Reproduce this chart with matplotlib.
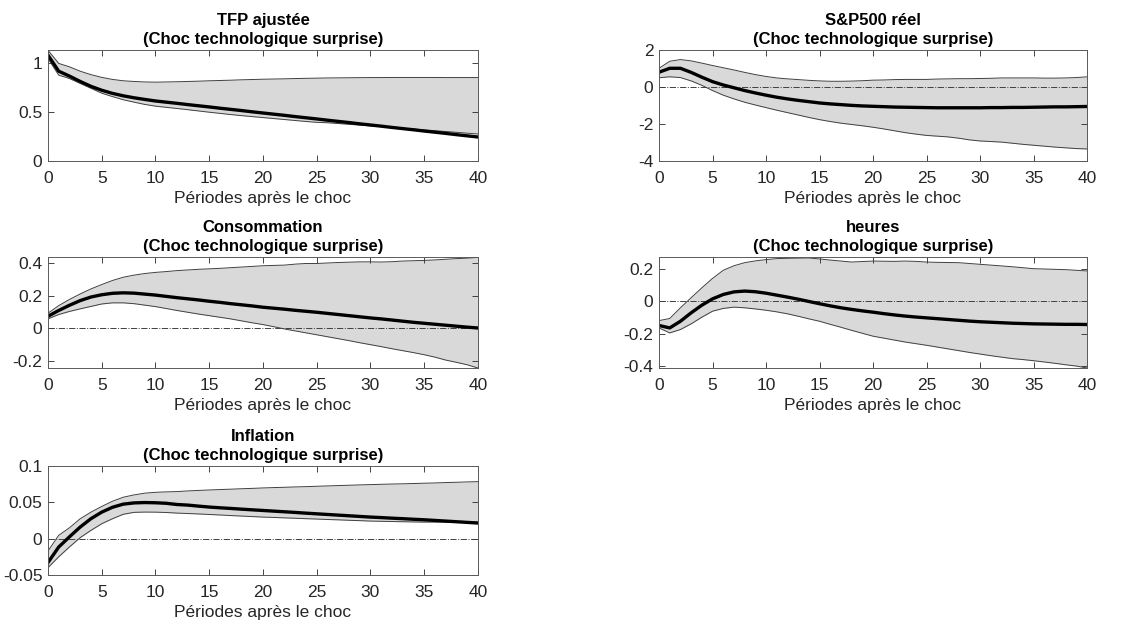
import matplotlib
matplotlib.use('Agg')
import matplotlib.pyplot as plt
import numpy as np
from matplotlib.ticker import FormatStrFormatter

plt.rcParams['font.family'] = ['Liberation Sans', 'DejaVu Sans']
plt.rcParams['axes.unicode_minus'] = False

periods = np.arange(41)

# TFP ajustée
tfp_mid = [1.085, 0.92, 0.87, 0.815, 0.765, 0.725, 0.693, 0.668, 0.648, 0.631, 0.615,
           0.603, 0.591, 0.578, 0.566, 0.554, 0.541, 0.529, 0.517, 0.504, 0.492,
           0.48, 0.468, 0.455, 0.443, 0.431, 0.418, 0.406, 0.394, 0.381, 0.369,
           0.357, 0.344, 0.332, 0.32, 0.307, 0.295, 0.283, 0.27, 0.258, 0.246]
tfp_up = [1.135, 1.0, 0.965, 0.92, 0.885, 0.857, 0.836, 0.822, 0.815, 0.81, 0.808,
          0.81, 0.812, 0.815, 0.818, 0.822, 0.825, 0.828, 0.832, 0.835, 0.838,
          0.84, 0.842, 0.845, 0.847, 0.849, 0.851, 0.852, 0.853, 0.854, 0.855,
          0.855, 0.856, 0.856, 0.856, 0.856, 0.856, 0.855, 0.855, 0.855, 0.855]
tfp_lo = [1.05, 0.88, 0.845, 0.795, 0.745, 0.695, 0.66, 0.628, 0.603, 0.58, 0.562,
          0.55, 0.538, 0.526, 0.513, 0.5, 0.488, 0.476, 0.465, 0.455, 0.445,
          0.435, 0.425, 0.415, 0.405, 0.396, 0.392, 0.384, 0.376, 0.368, 0.36,
          0.352, 0.344, 0.336, 0.328, 0.319, 0.311, 0.302, 0.294, 0.285, 0.277]

# S&P500 réel
sp_mid = [0.79, 1.0, 1.0, 0.78, 0.52, 0.28, 0.1, -0.05, -0.2, -0.33, -0.45,
          -0.56, -0.65, -0.73, -0.8, -0.87, -0.92, -0.96, -1.0, -1.03, -1.05,
          -1.07, -1.09, -1.1, -1.11, -1.12, -1.13, -1.13, -1.13, -1.13, -1.13,
          -1.12, -1.12, -1.11, -1.11, -1.1, -1.09, -1.08, -1.08, -1.07, -1.06]
sp_up = [1.0, 1.38, 1.47, 1.4, 1.28, 1.15, 1.03, 0.91, 0.78, 0.66, 0.56,
         0.48, 0.43, 0.39, 0.35, 0.32, 0.3, 0.3, 0.31, 0.33, 0.36,
         0.37, 0.39, 0.4, 0.4, 0.4, 0.42, 0.43, 0.44, 0.44, 0.45,
         0.46, 0.48, 0.48, 0.48, 0.48, 0.47, 0.47, 0.48, 0.5, 0.54]
sp_lo = [0.49, 0.54, 0.5, 0.32, 0.08, -0.2, -0.45, -0.65, -0.83, -0.98, -1.12,
         -1.26, -1.39, -1.52, -1.65, -1.77, -1.87, -1.96, -2.03, -2.1, -2.18,
         -2.27, -2.37, -2.47, -2.55, -2.62, -2.66, -2.7, -2.77, -2.86, -2.92,
         -2.95, -2.98, -3.04, -3.1, -3.15, -3.2, -3.25, -3.29, -3.33, -3.35]

# Consommation
cons_mid = [0.074, 0.11, 0.142, 0.171, 0.193, 0.207, 0.216, 0.219, 0.217, 0.211, 0.205,
            0.197, 0.189, 0.182, 0.175, 0.167, 0.16, 0.152, 0.145, 0.138, 0.13,
            0.124, 0.118, 0.111, 0.105, 0.099, 0.092, 0.085, 0.078, 0.071, 0.064,
            0.058, 0.051, 0.044, 0.037, 0.031, 0.025, 0.019, 0.013, 0.007, 0.002]
cons_up = [0.093, 0.14, 0.178, 0.212, 0.243, 0.27, 0.295, 0.315, 0.328, 0.338, 0.345,
           0.35, 0.356, 0.36, 0.364, 0.367, 0.37, 0.374, 0.378, 0.382, 0.386,
           0.388, 0.39, 0.396, 0.4, 0.4, 0.403, 0.406, 0.408, 0.41, 0.41,
           0.409, 0.411, 0.415, 0.417, 0.419, 0.422, 0.426, 0.43, 0.433, 0.437]
cons_lo = [0.058, 0.085, 0.104, 0.12, 0.135, 0.15, 0.157, 0.157, 0.152, 0.143, 0.134,
           0.122, 0.11, 0.099, 0.088, 0.078, 0.068, 0.058, 0.046, 0.034, 0.023,
           0.01, -0.004, -0.016, -0.028, -0.04, -0.052, -0.064, -0.076, -0.089, -0.101,
           -0.113, -0.126, -0.138, -0.15, -0.163, -0.178, -0.196, -0.21, -0.225, -0.245]

# heures
hrs_mid = [-0.15, -0.165, -0.124, -0.072, -0.025, 0.014, 0.041, 0.057, 0.062, 0.058, 0.049,
           0.037, 0.025, 0.012, -0.002, -0.016, -0.029, -0.041, -0.051, -0.06, -0.068,
           -0.077, -0.085, -0.092, -0.098, -0.103, -0.108, -0.113, -0.118, -0.123, -0.127,
           -0.13, -0.133, -0.136, -0.138, -0.14, -0.141, -0.142, -0.143, -0.143, -0.144]
hrs_up = [-0.12, -0.107, -0.041, 0.021, 0.082, 0.14, 0.19, 0.218, 0.237, 0.248, 0.256,
          0.262, 0.264, 0.265, 0.266, 0.26, 0.253, 0.247, 0.241, 0.244, 0.247,
          0.246, 0.245, 0.247, 0.245, 0.241, 0.239, 0.238, 0.237, 0.232, 0.227,
          0.222, 0.217, 0.212, 0.206, 0.2, 0.198, 0.196, 0.194, 0.19, 0.186]
hrs_lo = [-0.165, -0.196, -0.175, -0.14, -0.099, -0.062, -0.045, -0.037, -0.041, -0.048, -0.056,
          -0.066, -0.078, -0.093, -0.109, -0.124, -0.143, -0.161, -0.18, -0.198, -0.216,
          -0.228, -0.24, -0.252, -0.262, -0.272, -0.283, -0.294, -0.305, -0.316, -0.326,
          -0.336, -0.345, -0.354, -0.36, -0.367, -0.375, -0.383, -0.392, -0.4, -0.412]

# Inflation
inf_mid = [-0.033, -0.0115, 0.0025, 0.016, 0.0275, 0.0365, 0.0432, 0.0475, 0.0492, 0.0497, 0.0494,
           0.0487, 0.047, 0.0462, 0.0448, 0.0435, 0.0425, 0.0416, 0.0406, 0.0397, 0.0388,
           0.0379, 0.037, 0.0361, 0.0351, 0.0342, 0.0333, 0.0324, 0.0315, 0.0306, 0.0297,
           0.029, 0.0282, 0.0275, 0.0267, 0.026, 0.0251, 0.0242, 0.0233, 0.0224, 0.0215]
inf_up = [-0.017, 0.0046, 0.015, 0.0274, 0.0365, 0.0443, 0.0515, 0.057, 0.0602, 0.0626, 0.0638,
          0.0644, 0.0648, 0.0657, 0.0664, 0.067, 0.0676, 0.0681, 0.0687, 0.0692, 0.0698,
          0.0703, 0.0707, 0.0712, 0.0716, 0.0721, 0.0726, 0.0731, 0.0735, 0.074, 0.0744,
          0.0748, 0.0752, 0.0755, 0.0759, 0.0763, 0.0767, 0.0772, 0.0776, 0.0781, 0.0785]
inf_lo = [-0.04, -0.025, -0.0114, 0.0014, 0.0114, 0.0205, 0.0274, 0.0335, 0.0362, 0.0366, 0.0365,
          0.036, 0.0352, 0.0346, 0.034, 0.0333, 0.0326, 0.0318, 0.0311, 0.0304, 0.0297,
          0.0292, 0.0286, 0.0281, 0.0275, 0.027, 0.0264, 0.0259, 0.0253, 0.0248, 0.0242,
          0.0239, 0.0236, 0.0233, 0.023, 0.0228, 0.0228, 0.0228, 0.0228, 0.0228, 0.0228]

names = ['TFP ajustée', 'S&P500 réel', 'Consommation', 'heures', 'Inflation']
subtitle = '(Choc technologique surprise)'
xlabel = 'Périodes après le choc'

panels = [
    (tfp_mid, tfp_lo, tfp_up, (0, 1.14), [0, 0.5, 1], False),
    (sp_mid, sp_lo, sp_up, (-4, 2), [-4, -2, 0, 2], True),
    (cons_mid, cons_lo, cons_up, (-0.245, 0.44), [-0.2, 0, 0.2, 0.4], True),
    (hrs_mid, hrs_lo, hrs_up, (-0.412, 0.272), [-0.4, -0.2, 0, 0.2], True),
    (inf_mid, inf_lo, inf_up, (-0.05, 0.1), [-0.05, 0, 0.05, 0.1], True),
]

# axes boxes in figure fractions (left, bottom, width, height)
boxes = [
    (0.0421, 0.7424, 0.3775, 0.178),
    (0.5786, 0.7424, 0.3758, 0.178),
    (0.0421, 0.4112, 0.3775, 0.1776),
    (0.5786, 0.4112, 0.3758, 0.1776),
    (0.0421, 0.0800, 0.3775, 0.1744),
]

fig = plt.figure(figsize=(11.39, 6.25), dpi=100)
edge = '#262626'

for name, (mid, lo, up, ylim, yt, zero), box in zip(names, panels, boxes):
    ax = fig.add_axes(box)
    ax.fill_between(periods, lo, up, color='#d9d9d9', linewidth=0)
    ax.plot(periods, up, color='#404040', lw=0.7)
    ax.plot(periods, lo, color='#404040', lw=0.7)
    if zero:
        ax.axhline(0, color='#404040', lw=0.7, ls='-.')
    ax.plot(periods, mid, color='black', lw=2.4)
    ax.set_xlim(0, 40)
    ax.set_ylim(*ylim)
    ax.set_xticks(range(0, 41, 5))
    ax.set_yticks(yt)
    ax.yaxis.set_major_formatter(FormatStrFormatter('%g'))
    ax.tick_params(direction='in', top=True, right=True, labelsize=12.5,
                   colors=edge, length=4, width=0.6)
    ax.tick_params(axis='x', pad=7)
    ax.tick_params(axis='y', pad=4)
    for s in ax.spines.values():
        s.set_color('#5a5a5a')
        s.set_linewidth(0.7)
    ax.set_title(name + '\n' + subtitle, fontsize=12, fontweight='bold', pad=4,
                 linespacing=1.35)
    ax.set_xlabel(xlabel, fontsize=12.5, color=edge, labelpad=4)

fig.savefig('out.png', dpi=100)
